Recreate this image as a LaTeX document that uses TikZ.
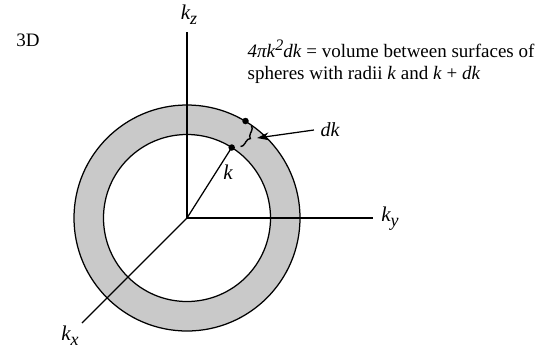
\documentclass[tikz,border=0pt]{standalone}
\usepackage{fontspec}
\setmainfont{Liberation Serif}
\usetikzlibrary{decorations.pathreplacing,arrows.meta}
\begin{document}
\begin{tikzpicture}[x=1pt,y=-1pt, line width=1.25pt,
  lbl/.style={font=\fontsize{19}{22}\selectfont, inner sep=0pt},
  axlbl/.style={font=\fontsize{21}{24}\selectfont\itshape, inner sep=0pt},
  dot/.style={circle,fill=black,inner sep=0pt,minimum size=6.5pt}]
\useasboundingbox (0,0) rectangle (549,349);
\coordinate (O) at (187,218);
\fill[gray!42, even odd rule] (O) circle[radius=113] (O) circle[radius=83.5];
\draw (O) circle[radius=113];
\draw (O) circle[radius=83.5];
\coordinate (zt) at (187,32);
\coordinate (yt) at (373,218);
\coordinate (xt) at (82,323);
\draw (O) -- (zt);
\draw (O) -- (yt);
\draw (O) -- (xt);
\node[axlbl] (kz) at (189,15) {k\raisebox{-5pt}{\fontsize{18}{18}\selectfont z}};
\node[axlbl] (ky) at (390,219) {k\raisebox{-5pt}{\fontsize{18}{18}\selectfont y}};
\node[axlbl] (kx) at (70,336) {k\raisebox{-5pt}{\fontsize{18}{18}\selectfont x}};
\node[dot] (pin) at (231.7,147.5) {};
\node[dot] (pout) at (245.5,121) {};
\draw (O) -- (pin.center);
\node[axlbl] (k) at (228,172) {k};
\draw[line width=1.4pt, decorate, decoration={brace, amplitude=5pt, mirror}] (240.5,146.5) -- (251.5,126);
\node[axlbl, font=\fontsize{20}{24}\selectfont\itshape] (dk) at (330,130) {dk};
\coordinate (tip) at (257,138);
\draw[-{Stealth[length=12pt,width=8pt]}] (dk.west) ++(-6pt,0) -- (tip);
\node[lbl] (three) at (28,40) {3D};
\node[lbl, anchor=north west, align=left] (txt) at (247,39) {\textit{4πk}\raisebox{7pt}{\fontsize{16}{16}\selectfont\textit{2}}\textit{dk} = volume between surfaces of\\spheres with radii \textit{k} and \textit{k} + \textit{dk}};
\end{tikzpicture}
\end{document}
